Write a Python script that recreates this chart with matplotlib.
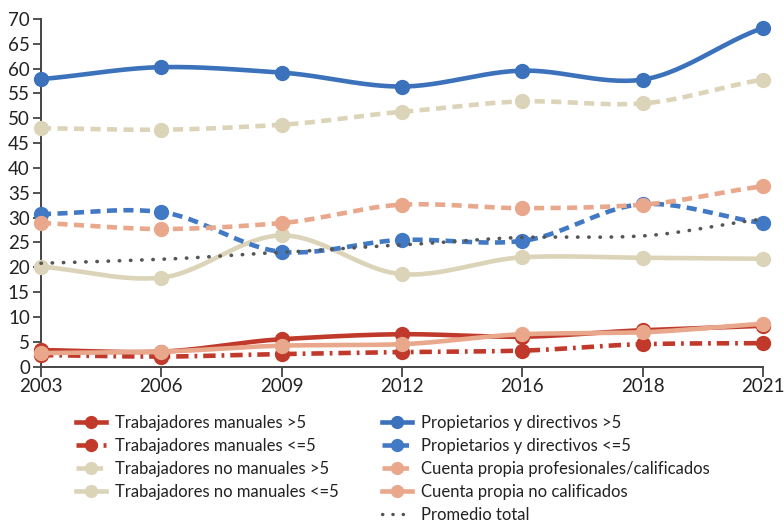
import numpy as np
import matplotlib
matplotlib.use("Agg")
import matplotlib.pyplot as plt
from matplotlib.lines import Line2D

plt.rcParams['font.family'] = ['Lato', 'DejaVu Sans']

years = ["2003", "2006", "2009", "2012", "2016", "2018", "2021"]

manuales_may5 = [3.3, 3.0, 5.5, 6.5, 6.0, 7.3, 8.2]
manuales_men5 = [2.3, 2.0, 2.5, 2.9, 3.2, 4.5, 4.7]
no_manuales_may5 = [48.0, 47.7, 48.7, 51.3, 53.4, 53.0, 57.8]
no_manuales_men5 = [20.1, 17.9, 26.4, 18.6, 22.0, 21.9, 21.7]
propietarios_may5 = [57.9, 60.3, 59.2, 56.4, 59.6, 57.8, 68.2]
propietarios_men5 = [30.7, 31.1, 23.1, 25.5, 25.3, 32.7, 28.9]
cp_profesionales = [28.9, 27.7, 28.9, 32.6, 31.9, 32.6, 36.3]
cp_no_calificados = [2.7, 3.0, 4.2, 4.5, 6.5, 6.9, 8.6]
promedio_total = [20.8, 21.6, 23.0, 24.5, 26.0, 26.3, 29.7]

labels = [
    "Trabajadores manuales >5",
    "Trabajadores manuales <=5",
    "Trabajadores no manuales >5",
    "Trabajadores no manuales <=5",
    "Propietarios y directivos >5",
    "Propietarios y directivos <=5",
    "Cuenta propia profesionales/calificados",
    "Cuenta propia no calificados",
    "Promedio total",
]

RED = "#c0392b"
BEIGE = "#dbd4b8"
BLUE = "#3b72bb"
BLUE2 = "#4279c4"
SALMON = "#e9a88c"
GRAY = "#555555"

DASH = (0, (2.2, 1.4))
DASHDOT = (0, (2.7, 1.3, 0.6, 1.3))
DOT = (0, (0.1, 3.0))

series = [
    (manuales_may5, RED, "-", True),
    (manuales_men5, RED, DASHDOT, True),
    (no_manuales_may5, BEIGE, DASH, True),
    (no_manuales_men5, BEIGE, "-", True),
    (propietarios_may5, BLUE, "-", True),
    (propietarios_men5, BLUE2, DASH, True),
    (cp_profesionales, SALMON, DASH, True),
    (cp_no_calificados, SALMON, "-", True),
    (promedio_total, GRAY, DOT, False),
]


def smooth(x, y, n=30):
    x = np.asarray(x, float)
    y = np.asarray(y, float)
    xs, ys = [], []
    px = np.concatenate([[2 * x[0] - x[1]], x, [2 * x[-1] - x[-2]]])
    py = np.concatenate([[2 * y[0] - y[1]], y, [2 * y[-1] - y[-2]]])
    t = np.linspace(0, 1, n)
    for i in range(1, len(px) - 2):
        p0, p1, p2, p3 = py[i - 1], py[i], py[i + 1], py[i + 2]
        x1, x2 = px[i], px[i + 1]
        m1 = (p2 - p0) / 2 * 0.8
        m2 = (p3 - p1) / 2 * 0.8
        h00 = 2 * t**3 - 3 * t**2 + 1
        h10 = t**3 - 2 * t**2 + t
        h01 = -2 * t**3 + 3 * t**2
        h11 = t**3 - t**2
        ys.append(h00 * p1 + h10 * m1 + h01 * p2 + h11 * m2)
        xs.append(x1 + (x2 - x1) * t)
    return np.concatenate(xs), np.concatenate(ys)


fig = plt.figure(figsize=(7.84, 5.25), dpi=100)
ax = fig.add_axes([41 / 784, 1 - 366.5 / 525, (763 - 41) / 784, (366.5 - 19) / 525])

xi = np.arange(len(years))
handles = []
for (vals, col, ls, mk), lab in zip(series, labels):
    sx, sy = smooth(xi, vals)
    cap = "round" if not mk else "butt"
    lw = 3.3 if mk else 2.6
    ax.plot(sx, sy, color=col, lw=lw, linestyle=ls,
            solid_capstyle="round", dash_capstyle=cap, clip_on=False, zorder=3)
    if mk:
        ax.plot(xi, vals, linestyle="none", marker="o", ms=10, color=col,
                clip_on=False, zorder=3)
    handles.append(Line2D([0], [0], color=col, lw=3.3 if mk else 2.4,
                          linestyle=ls, marker="o" if mk else None, ms=8.5,
                          dash_capstyle=cap))

ax.set_xlim(0, 6)
ax.set_ylim(0, 70)
ax.set_xticks(xi)
ax.set_xticklabels(years)
ax.set_yticks(np.arange(0, 71, 5))
for s in ["top", "right"]:
    ax.spines[s].set_visible(False)
for s in ["left", "bottom"]:
    ax.spines[s].set_color("#444444")
    ax.spines[s].set_linewidth(1.4)
ax.tick_params(axis="both", colors="#444444", labelcolor="#222222",
               labelsize=13.5, width=1.3)
ax.tick_params(axis="y", length=6, pad=2)
ax.tick_params(axis="x", length=7, pad=1)

leg_kw = dict(frameon=False, fontsize=12, handlelength=1.8, handletextpad=0.55,
              labelspacing=0.42, borderaxespad=0, borderpad=0,
              labelcolor="#222222")
leg1 = fig.legend(handles[:4], labels[:4], loc="upper left",
                  bbox_to_anchor=(76 / 784, 1 - 415 / 525), **leg_kw)
leg2 = fig.legend(handles[4:], labels[4:], loc="upper left",
                  bbox_to_anchor=(382 / 784, 1 - 415 / 525), **leg_kw)

fig.savefig("out.png", dpi=100)
